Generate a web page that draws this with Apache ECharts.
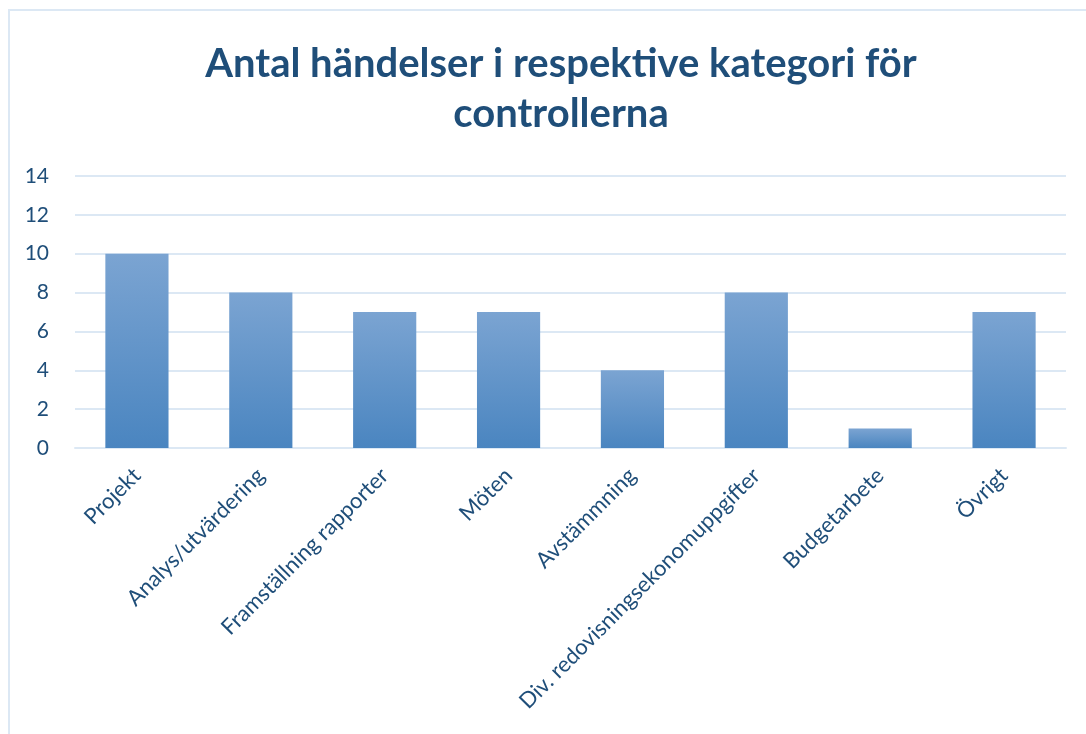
<!DOCTYPE html>
<html>
<head>
<meta charset="utf-8">
<script src="https://cdn.jsdelivr.net/npm/echarts@6/dist/echarts.min.js"></script>
<style>
  html, body { margin: 0; padding: 0; background: #fff; overflow: hidden; }
  #frame { position: absolute; left: 8px; top: 9px; width: 1100px; height: 740px; border: 2px solid #dce8f4; box-sizing: border-box; }
  #chart { position: absolute; left: 0; top: 0; width: 1086px; height: 734px; }
</style>
</head>
<body>
<div id="frame"></div>
<div id="chart"></div>
<script>
const categories = ['Projekt', 'Analys/utvärdering', 'Framställning rapporter', 'Möten', 'Avstämmning', 'Div. redovisningsekonomuppgifter', 'Budgetarbete', 'Övrigt']
const counts = [10, 8, 7, 7, 4, 8, 1, 7]

const textColor = '#1f4e79'
const font = "Lato, 'Open Sans', sans-serif"

const chart = echarts.init(document.getElementById('chart'), null, { renderer: 'canvas' })
chart.setOption({
  backgroundColor: 'transparent',
  animation: false,
  title: {
    text: 'Antal händelser i respektive kategori för\ncontrollerna',
    left: 556,
    top: 34,
    textAlign: 'center',
    textStyle: { color: textColor, fontFamily: font, fontWeight: 'bold', fontSize: 40, lineHeight: 50, align: 'center' },
  },
  grid: { left: 75, right: 20, top: 176, bottom: 286, containLabel: false },
  xAxis: {
    type: 'category',
    data: categories,
    axisLine: { lineStyle: { color: '#dce8f4', width: 2 } },
    axisTick: { show: false },
    axisLabel: { rotate: 45, interval: 0, color: textColor, fontFamily: font, fontSize: 22, margin: 24 },
  },
  yAxis: {
    type: 'value',
    min: 0,
    max: 14,
    interval: 2,
    axisLine: { show: false },
    axisTick: { show: false },
    splitLine: { lineStyle: { color: '#dce8f4', width: 2 } },
    axisLabel: { color: textColor, fontFamily: font, fontSize: 21, margin: 26 },
  },
  series: [{
    type: 'bar',
    data: counts,
    barWidth: '51%',
    itemStyle: {
      color: new echarts.graphic.LinearGradient(0, 0, 0, 1, [
        { offset: 0, color: '#7ba4d2' },
        { offset: 1, color: '#4a85c0' },
      ]),
    },
  }],
})
</script>
</body>
</html>
